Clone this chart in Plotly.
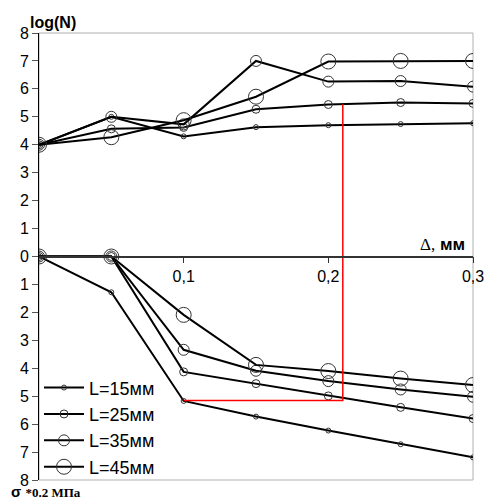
import plotly.graph_objects as go

x = [0, 0.05, 0.1, 0.15, 0.2, 0.25, 0.3]
names = ["L=15мм", "L=25мм", "L=35мм", "L=45мм"]
logN = {
    "L=15мм": [4.0, 5.0, 4.3, 4.63, 4.7, 4.74, 4.77],
    "L=25мм": [4.0, 4.57, 4.62, 5.27, 5.44, 5.51, 5.48],
    "L=35мм": [4.0, 5.0, 4.73, 7.0, 6.26, 6.28, 6.08],
    "L=45мм": [4.0, 4.27, 4.88, 5.72, 6.98, 7.0, 7.0],
}
sigma = {
    "L=15мм": [0, 1.28, 5.17, 5.73, 6.23, 6.72, 7.19],
    "L=25мм": [0, 0, 4.13, 4.55, 4.99, 5.4, 5.8],
    "L=35мм": [0, 0, 3.34, 4.09, 4.46, 4.76, 5.02],
    "L=45мм": [0, 0, 2.09, 3.88, 4.1, 4.37, 4.6],
}
marker_sizes = [5, 8, 11, 15]
red_x = [0.21, 0.21, 0.1]
red_y = [5.45, -5.15, -5.15]
ytick_vals = list(range(-8, 9))
ytick_text = [str(abs(v)) for v in ytick_vals]
xtick_vals = [0.1, 0.2, 0.3]
xtick_text = ["0,1", "0,2", "0,3"]

fig = go.Figure()
for n, ms in zip(names, marker_sizes):
    fig.add_trace(go.Scatter(
        x=x, y=logN[n], mode="lines+markers", name=n,
        line=dict(color="black", width=2),
        marker=dict(symbol="circle-open", size=ms, color="#333333", line=dict(width=1)),
        legendgroup=n, showlegend=True,
    ))
    fig.add_trace(go.Scatter(
        x=x, y=[-v for v in sigma[n]], mode="lines+markers", name=n,
        line=dict(color="black", width=2),
        marker=dict(symbol="circle-open", size=ms, color="#333333", line=dict(width=1)),
        legendgroup=n, showlegend=False,
    ))
fig.add_trace(go.Scatter(x=red_x, y=red_y, mode="lines",
                         line=dict(color="red", width=1.5), showlegend=False))

fig.update_layout(
    width=488, height=493,
    margin=dict(l=27, r=17, t=25, b=20),
    plot_bgcolor="white", paper_bgcolor="white",
    font=dict(family="Arial, Liberation Sans", color="black"),
    xaxis=dict(range=[0, 0.3], tickvals=xtick_vals, ticktext=xtick_text,
               showgrid=False, zeroline=False, showline=True, linecolor="#333333",
               linewidth=1.5, ticks="outside", ticklen=6, tickcolor="#333333",
               anchor="free", position=0.5, tickfont=dict(size=16)),
    yaxis=dict(range=[-8, 8], tickvals=ytick_vals, ticktext=ytick_text,
               showgrid=False, zeroline=False, showline=True, linecolor="black",
               linewidth=1, ticks="outside", ticklen=6, tickcolor="#555555",
               tickfont=dict(size=16)),
    legend=dict(x=0.0, y=-0.012, xanchor="left", yanchor="bottom",
                bgcolor="rgba(0,0,0,0)", font=dict(size=18),
                tracegroupgap=0, itemwidth=40),
    shapes=[dict(type="rect", xref="paper", yref="paper", x0=0, x1=1, y0=0, y1=1,
                 line=dict(color="#b0b0b0", width=1), layer="below")],
    annotations=[
        dict(text="<b>log(N)</b>", xref="paper", yref="paper", x=-0.025, y=1.0,
             xanchor="left", yanchor="bottom", showarrow=False, font=dict(size=16)),
        dict(text="<span style='font-family:Liberation Serif'>Δ,</span> <b>мм</b>",
             xref="x", yref="paper", x=0.3, y=0.5, xanchor="right", yanchor="bottom",
             xshift=-6, yshift=1, showarrow=False, font=dict(size=17)),
        dict(text="<b>σ</b> <b><span style='font-family:Liberation Serif;font-size:13px'>*0.2 МПа</span></b>",
             xref="paper", yref="paper", x=-0.068, y=0, xanchor="left", yanchor="top",
             yshift=-1, showarrow=False, font=dict(size=15)),
    ],
)
fig.write_html("out.html")
